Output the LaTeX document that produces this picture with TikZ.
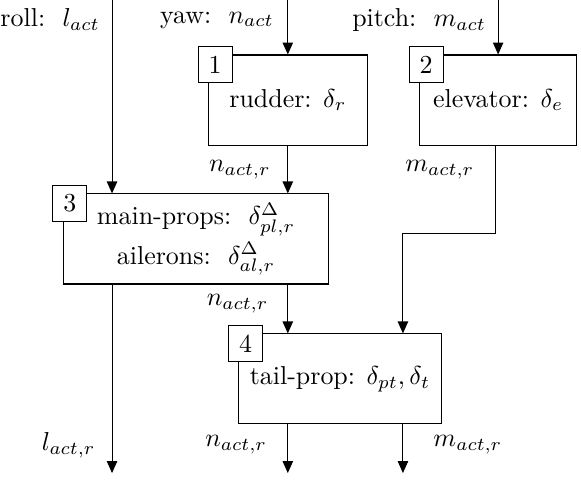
\documentclass[tikz,border=0pt]{standalone}
\usepackage{amsmath}
\usepackage{amssymb}
\usepackage{tikz}
\usetikzlibrary{arrows.meta, positioning, calc}

\begin{document}
\begin{tikzpicture}[>={Triangle[length=4.6pt,width=4pt]},
    block/.style={draw, minimum width=#1, minimum height=1.22cm, align=center},
    tag/.style={draw, fill=white, minimum width=0.46cm, minimum height=0.49cm, inner sep=0pt, anchor=north west}]
      \useasboundingbox (0, 0) rectangle (7.873, -6.491);

      \node[block=2.15cm] (b1) at (3.90, -1.355) {rudder: $\delta_r$};
      \node[block=2.13cm] (b2) at (6.75, -1.355) {elevator: $\delta_e$};
      \node[block=3.60cm] (b3) at (2.656, -3.238) {main-props:\ \ $\delta^{\Delta}_{pl,r}$\\[1.5pt]ailerons:\ \ $\delta^{\Delta}_{al,r}$};
      \node[block=2.74cm] (b4) at (4.607, -5.135) {tail-prop: $\delta_{pt}, \delta_t$};

      \node[tag] (t1) at ([shift={(-0.14, 0.115)}]b1.north west) {1};
      \node[tag] (t2) at ([shift={(-0.14, 0.115)}]b2.north west) {2};
      \node[tag] (t3) at ([shift={(-0.14, 0.115)}]b3.north west) {3};
      \node[tag] (t4) at ([shift={(-0.14, 0.115)}]b4.north west) {4};

      \coordinate (rollin) at (1.518, 0);
      \coordinate (yawin) at (3.90, 0);
      \coordinate (pitchin) at (6.75, 0);
      \coordinate (bendA) at (6.71, -3.17);
      \coordinate (bendB) at (5.46, -3.17);
      \coordinate (rollout) at (1.518, -6.41);
      \coordinate (yawout) at (3.90, -6.41);
      \coordinate (pitchout) at (5.46, -6.41);

      \node (roll) at (0.68, -0.27) {roll:\ \ $l_{act}$};
      \node (yaw) at (2.94, -0.27) {yaw:\ \ $n_{act}$};
      \node (pitch) at (5.68, -0.27) {pitch:\ \ $m_{act}$};

      \draw[->] (rollin) -- (rollin |- b3.north);
      \draw[->] (yawin) -- (b1.north);
      \draw[->] (pitchin) -- (b2.north);
      \draw[->] (b1.south) -- (b1.south |- b3.north);
      \draw[->] (b2.south -| bendA) -- (bendA) -- (bendB) -- (bendB |- b4.north);
      \draw[->] (b3.south -| yawin) -- (yawin |- b4.north);
      \draw[->] (b3.south -| rollout) -- (rollout);
      \draw[->] (b4.south -| yawout) -- (yawout);
      \draw[->] (b4.south -| pitchout) -- (pitchout);

      \node (n1) at (3.25, -2.30) {$n_{act,r}$};
      \node (m1) at (5.96, -2.30) {$m_{act,r}$};
      \node (n2) at (3.22, -4.11) {$n_{act,r}$};
      \node (l3) at (0.93, -6.03) {$l_{act,r}$};
      \node (n3) at (3.20, -6.03) {$n_{act,r}$};
      \node (m3) at (6.34, -6.03) {$m_{act,r}$};
\end{tikzpicture}
\end{document}
